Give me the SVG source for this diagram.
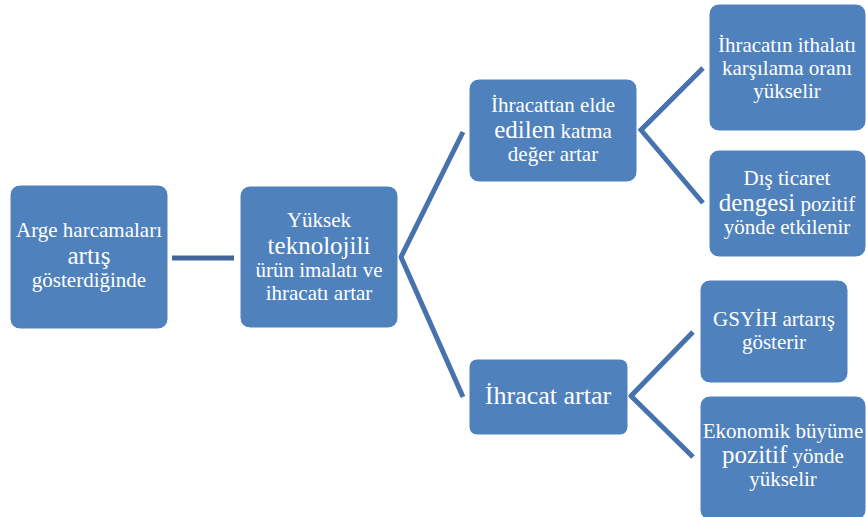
<svg xmlns="http://www.w3.org/2000/svg" width="866" height="517" viewBox="0 0 866 517">
<style>
.node rect{fill:#4f81bd;stroke:#ffffff;stroke-width:1}
.node text{font-family:'Liberation Serif','DejaVu Serif',serif;fill:#ffffff;font-size:21px;text-anchor:middle}
.node .big{font-size:25px}
.conn{fill:none;stroke:#4673ad;stroke-width:5;stroke-linejoin:miter}
</style>
<rect width="866" height="517" fill="#ffffff"/>
<g id="connectors">
<line class="conn" x1="172" y1="258" x2="234" y2="258" style="stroke:#41669a"/>
<polyline class="conn" points="463,132 401,257 463,397"/>
<polyline class="conn" points="703,68 641,130 703,203"/>
<polyline class="conn" points="693,332 631,396 693,457"/>
</g>
<g id="n1" class="node">
<rect x="10" y="185" width="158" height="144" rx="10"/>
<text x="89" y="237">Arge harcamaları</text>
<text x="89" y="264" class="big">artış</text>
<text x="89" y="287">gösterdiğinde</text>
</g>
<g id="n2" class="node">
<rect x="240" y="186" width="158" height="142" rx="10"/>
<text x="319" y="227">Yüksek</text>
<text x="319" y="254" class="big">teknolojili</text>
<text x="319" y="277">ürün imalatı ve</text>
<text x="319" y="300">ihracatı artar</text>
</g>
<g id="n3" class="node">
<rect x="469" y="79" width="168" height="103" rx="10"/>
<text x="553" y="112">İhracattan elde</text>
<text x="553" y="138"><tspan class="big">edilen</tspan> katma</text>
<text x="553" y="161">değer artar</text>
</g>
<g id="n4" class="node">
<rect x="469" y="359" width="159" height="76" rx="8"/>
<text x="548" y="404" style="font-size:26px">İhracat artar</text>
</g>
<g id="n5" class="node">
<rect x="709" y="4" width="157" height="127" rx="10"/>
<text x="787" y="52">İhracatın ithalatı</text>
<text x="787" y="75">karşılama oranı</text>
<text x="787" y="98">yükselir</text>
</g>
<g id="n6" class="node">
<rect x="709" y="150" width="157" height="107" rx="10"/>
<text x="787" y="185">Dış ticaret</text>
<text x="787" y="211"><tspan class="big">dengesi</tspan> pozitif</text>
<text x="787" y="234">yönde etkilenir</text>
</g>
<g id="n7" class="node">
<rect x="700" y="280" width="148" height="103" rx="10"/>
<text x="774" y="326">GSYİH artarış</text>
<text x="774" y="349">gösterir</text>
</g>
<g id="n8" class="node">
<rect x="700" y="396" width="166" height="124" rx="10"/>
<text x="783" y="438">Ekonomik büyüme</text>
<text x="783" y="463"><tspan class="big">pozitif</tspan> yönde</text>
<text x="783" y="486">yükselir</text>
</g>
</svg>
